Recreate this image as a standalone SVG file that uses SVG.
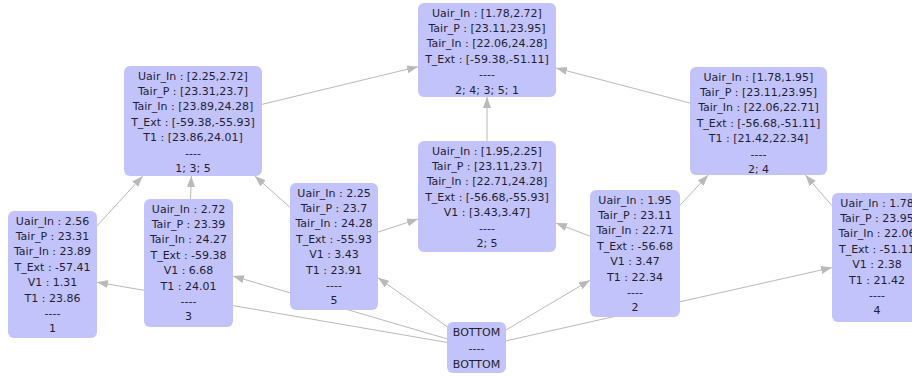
<svg xmlns="http://www.w3.org/2000/svg" width="912" height="377" viewBox="0 0 912 377">
<style>
.n{fill:#c3c3fb}
.t{font-family:"DejaVu Sans","Liberation Sans",sans-serif;font-size:11px;fill:#1e1e34;text-anchor:middle}
.e{stroke:#b9b9b9;stroke-width:1;fill:none;marker-end:url(#a)}
</style>
<defs>
<marker id="a" markerUnits="userSpaceOnUse" markerWidth="12" markerHeight="10" refX="11" refY="4" orient="auto">
<path d="M0,0 L11,4 L0,8 Z" fill="#b9b9b9"/>
</marker>
</defs>
<rect width="912" height="377" fill="#ffffff"/>
<g id="edges">
<line class="e" x1="476.5" y1="347.5" x2="97" y2="282.2"/>
<line class="e" x1="476.5" y1="347.5" x2="233" y2="276.1"/>
<line class="e" x1="476.5" y1="347.5" x2="378" y2="277.7"/>
<line class="e" x1="476.5" y1="347.5" x2="590" y2="280.2"/>
<line class="e" x1="476.5" y1="347.5" x2="832" y2="267.6"/>
<line class="e" x1="52.5" y1="274.5" x2="142.7" y2="176"/>
<line class="e" x1="188.5" y1="263" x2="191.3" y2="176"/>
<line class="e" x1="334" y1="246.5" x2="254.8" y2="176"/>
<line class="e" x1="334" y1="246.5" x2="418" y2="219"/>
<line class="e" x1="635" y1="253.5" x2="556" y2="223.1"/>
<line class="e" x1="635" y1="253.5" x2="708.2" y2="175"/>
<line class="e" x1="877" y1="257.5" x2="805.4" y2="175"/>
<line class="e" x1="487" y1="196.5" x2="487" y2="97"/>
<line class="e" x1="193" y1="121" x2="418" y2="66.7"/>
<line class="e" x1="758.5" y1="121" x2="556" y2="68"/>
</g>
<g id="top">
<rect class="n" x="418" y="3" width="138" height="94" rx="6"/>
<text class="t"><tspan x="487" y="16.5">Uair_In : [1.78,2.72]</tspan><tspan x="487" dy="15.4">Tair_P : [23.11,23.95]</tspan><tspan x="487" dy="15.4">Tair_In : [22.06,24.28]</tspan><tspan x="487" dy="15.4">T_Ext : [-59.38,-51.11]</tspan><tspan x="487" dy="15.4">----</tspan><tspan x="487" dy="15.4">2; 4; 3; 5; 1</tspan></text>
</g>
<g id="n135">
<rect class="n" x="124" y="66" width="138" height="110" rx="6"/>
<text class="t"><tspan x="193" y="79.5">Uair_In : [2.25,2.72]</tspan><tspan x="193" dy="15.4">Tair_P : [23.31,23.7]</tspan><tspan x="193" dy="15.4">Tair_In : [23.89,24.28]</tspan><tspan x="193" dy="15.4">T_Ext : [-59.38,-55.93]</tspan><tspan x="193" dy="15.4">T1 : [23.86,24.01]</tspan><tspan x="193" dy="15.4">----</tspan><tspan x="193" dy="15.4">1; 3; 5</tspan></text>
</g>
<g id="n24">
<rect class="n" x="690" y="67" width="137" height="108" rx="6"/>
<text class="t"><tspan x="758.5" y="80.5">Uair_In : [1.78,1.95]</tspan><tspan x="758.5" dy="15.4">Tair_P : [23.11,23.95]</tspan><tspan x="758.5" dy="15.4">Tair_In : [22.06,22.71]</tspan><tspan x="758.5" dy="15.4">T_Ext : [-56.68,-51.11]</tspan><tspan x="758.5" dy="15.4">T1 : [21.42,22.34]</tspan><tspan x="758.5" dy="15.4">----</tspan><tspan x="758.5" dy="15.4">2; 4</tspan></text>
</g>
<g id="n25">
<rect class="n" x="418" y="141" width="138" height="111" rx="6"/>
<text class="t"><tspan x="487" y="154.5">Uair_In : [1.95,2.25]</tspan><tspan x="487" dy="15.4">Tair_P : [23.11,23.7]</tspan><tspan x="487" dy="15.4">Tair_In : [22.71,24.28]</tspan><tspan x="487" dy="15.4">T_Ext : [-56.68,-55.93]</tspan><tspan x="487" dy="15.4">V1 : [3.43,3.47]</tspan><tspan x="487" dy="15.4">----</tspan><tspan x="487" dy="15.4">2; 5</tspan></text>
</g>
<g id="n1">
<rect class="n" x="8" y="211" width="89" height="127" rx="6"/>
<text class="t"><tspan x="52.5" y="224.5">Uair_In : 2.56</tspan><tspan x="52.5" dy="15.4">Tair_P : 23.31</tspan><tspan x="52.5" dy="15.4">Tair_In : 23.89</tspan><tspan x="52.5" dy="15.4">T_Ext : -57.41</tspan><tspan x="52.5" dy="15.4">V1 : 1.31</tspan><tspan x="52.5" dy="15.4">T1 : 23.86</tspan><tspan x="52.5" dy="15.4">----</tspan><tspan x="52.5" dy="15.4">1</tspan></text>
</g>
<g id="n3">
<rect class="n" x="144" y="199" width="89" height="128" rx="6"/>
<text class="t"><tspan x="188.5" y="212.5">Uair_In : 2.72</tspan><tspan x="188.5" dy="15.4">Tair_P : 23.39</tspan><tspan x="188.5" dy="15.4">Tair_In : 24.27</tspan><tspan x="188.5" dy="15.4">T_Ext : -59.38</tspan><tspan x="188.5" dy="15.4">V1 : 6.68</tspan><tspan x="188.5" dy="15.4">T1 : 24.01</tspan><tspan x="188.5" dy="15.4">----</tspan><tspan x="188.5" dy="15.4">3</tspan></text>
</g>
<g id="n5">
<rect class="n" x="290" y="183" width="88" height="127" rx="6"/>
<text class="t"><tspan x="334" y="196.5">Uair_In : 2.25</tspan><tspan x="334" dy="15.4">Tair_P : 23.7</tspan><tspan x="334" dy="15.4">Tair_In : 24.28</tspan><tspan x="334" dy="15.4">T_Ext : -55.93</tspan><tspan x="334" dy="15.4">V1 : 3.43</tspan><tspan x="334" dy="15.4">T1 : 23.91</tspan><tspan x="334" dy="15.4">----</tspan><tspan x="334" dy="15.4">5</tspan></text>
</g>
<g id="n2">
<rect class="n" x="590" y="190" width="90" height="127" rx="6"/>
<text class="t"><tspan x="635" y="203.5">Uair_In : 1.95</tspan><tspan x="635" dy="15.4">Tair_P : 23.11</tspan><tspan x="635" dy="15.4">Tair_In : 22.71</tspan><tspan x="635" dy="15.4">T_Ext : -56.68</tspan><tspan x="635" dy="15.4">V1 : 3.47</tspan><tspan x="635" dy="15.4">T1 : 22.34</tspan><tspan x="635" dy="15.4">----</tspan><tspan x="635" dy="15.4">2</tspan></text>
</g>
<g id="n4">
<rect class="n" x="832" y="193" width="90" height="129" rx="6"/>
<text class="t"><tspan x="877" y="206.5">Uair_In : 1.78</tspan><tspan x="877" dy="15.4">Tair_P : 23.95</tspan><tspan x="877" dy="15.4">Tair_In : 22.06</tspan><tspan x="877" dy="15.4">T_Ext : -51.11</tspan><tspan x="877" dy="15.4">V1 : 2.38</tspan><tspan x="877" dy="15.4">T1 : 21.42</tspan><tspan x="877" dy="15.4">----</tspan><tspan x="877" dy="15.4">4</tspan></text>
</g>
<g id="bottom">
<rect class="n" x="447" y="322" width="59" height="51" rx="6"/>
<text class="t"><tspan x="476.5" y="336">BOTTOM</tspan><tspan x="476.5" dy="16">----</tspan><tspan x="476.5" dy="16">BOTTOM</tspan></text>
</g>
</svg>
